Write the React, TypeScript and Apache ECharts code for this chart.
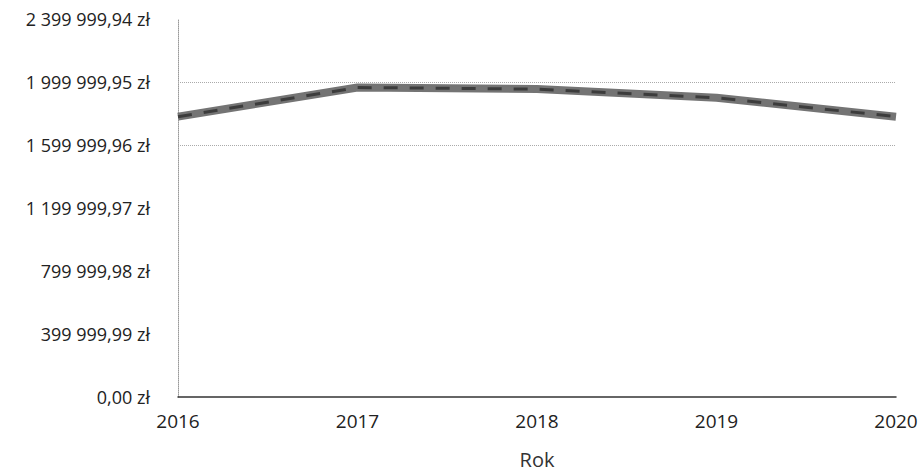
import React, { useEffect, useRef } from "react";
import * as echarts from "echarts";

const years = ["2016", "2017", "2018", "2019", "2020"];
const values = [1780000, 1965000, 1955000, 1900000, 1780000];
const yMax = 2399999.94;
const yInterval = 399999.99;
const gridValues = [1599999.96, 1999999.95];

function fmt(v: number): string {
  const s = v.toFixed(2);
  const [i, d] = s.split(".");
  const g = i.replace(/\B(?=(\d{3})+(?!\d))/g, " ");
  return `${g},${d} zł`;
}

export default function App() {
  const ref = useRef<HTMLDivElement>(null);
  useEffect(() => {
    if (!ref.current) return;
    const chart = echarts.init(ref.current, null, { renderer: "svg" });
    const font = "'Open Sans', 'Noto Sans', sans-serif";
    chart.setOption({
      animation: false,
      backgroundColor: "#ffffff",
      grid: { left: 178, right: 25, top: 19, bottom: 78, containLabel: false },
      xAxis: {
        type: "category",
        data: years,
        boundaryGap: false,
        name: "Rok",
        nameLocation: "middle",
        nameGap: 52,
        nameTextStyle: { color: "#333", fontSize: 20, fontFamily: font },
        axisLine: { show: true, lineStyle: { color: "#333", width: 1.5 } },
        axisTick: { show: false },
        axisLabel: { color: "#222", fontSize: 19, fontFamily: font, margin: 14 },
        splitLine: { show: false },
      },
      yAxis: {
        type: "value",
        min: 0,
        max: yMax,
        interval: yInterval,
        axisLine: { show: true, lineStyle: { color: "#999", type: "dotted", width: 1 } },
        axisTick: { show: false },
        axisLabel: {
          color: "#222",
          fontSize: 18,
          fontFamily: font,
          margin: 28,
          formatter: (v: number) => fmt(v),
        },
        splitLine: { show: false },
      },
      series: [
        {
          type: "line",
          data: values,
          symbol: "none",
          lineStyle: { color: "#747474", width: 8 },
          markLine: {
            silent: true,
            symbol: "none",
            label: { show: false },
            lineStyle: { color: "#aaa", type: "dotted", width: 1 },
            data: gridValues.map((v) => ({ yAxis: v })),
          },
          z: 2,
        },
        {
          type: "line",
          data: values,
          symbol: "none",
          lineStyle: { color: "#3c3c3c", width: 3, type: [14, 12] },
          z: 3,
        },
      ],
    });
    return () => chart.dispose();
  }, []);
  return (
    <div
      ref={ref}
      style={{ position: "fixed", left: 0, top: 0, width: 921, height: 475, overflow: "hidden" }}
    />
  );
}
